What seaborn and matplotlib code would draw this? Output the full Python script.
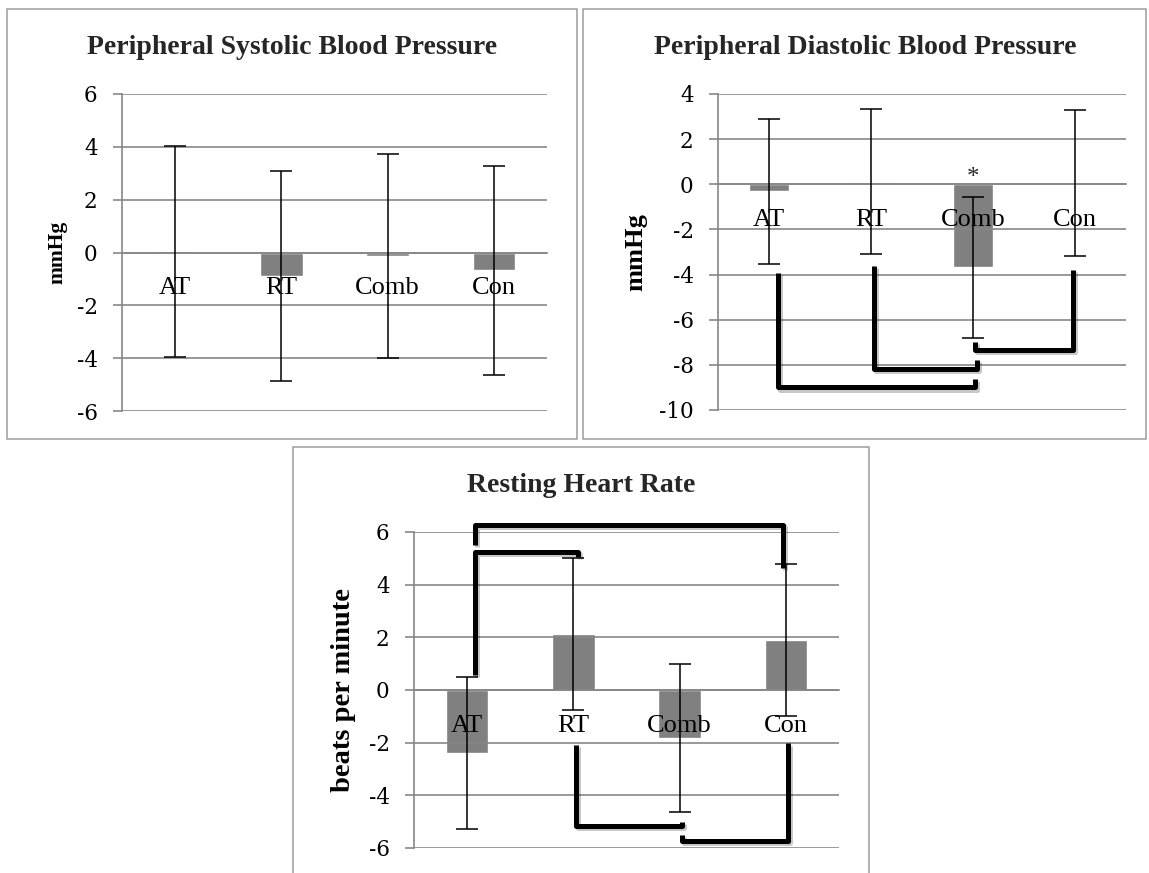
import numpy as np
import pandas as pd
import matplotlib
matplotlib.use("Agg")
import matplotlib.pyplot as plt
import matplotlib.patheffects as pe
from matplotlib.patches import Rectangle
import seaborn as sns

# ---- data: change scores (mean, SD) per training group ----
groups = ["AT", "RT", "Comb", "Con"]

sbp_mean = [0.05, -0.90, -0.15, -0.68]
sbp_sd = [4.00, 3.97, 3.86, 3.97]

dbp_mean = [-0.30, 0.12, -3.68, 0.05]
dbp_sd = [3.21, 3.21, 3.12, 3.22]

hr_mean = [-2.40, 2.12, -1.83, 1.90]
hr_sd = [2.88, 2.88, 2.81, 2.88]

sbp_ticks = [-6, -4, -2, 0, 2, 4, 6]
dbp_ticks = [-10, -8, -6, -4, -2, 0, 2, 4]
hr_ticks = [-6, -4, -2, 0, 2, 4, 6]

# significance brackets: (x_start, x_end, y_start, y_level, y_end) in data units
dbp_brackets = [
    (0.09, 2.02, -3.94, -9.00, -8.64),
    (1.03, 2.04, -3.62, -8.17, -7.78),
    (2.02, 2.98, -6.98, -7.35, -3.80),
]
hr_brackets = [
    (0.07, 1.04, 0.57, 5.25, 5.06),
    (0.07, 2.97, 5.50, 6.27, 4.62),
    (1.02, 2.02, -2.09, -5.17, -5.00),
    (2.02, 3.02, -5.50, -5.72, -2.03),
]
dbp_star_group = 2

# ---- style ----
sns.set_theme(style="white")
plt.rcParams["font.family"] = ["Liberation Serif", "DejaVu Serif"]

BAR = "#808080"
GRID = "#878787"
FRAME = "#9c9c9c"
W, H = 1149, 873

fig = plt.figure(figsize=(W / 100, H / 100), dpi=100)


def fx(px):
    return px / W


def fy(py):
    return 1 - py / H


def panel(rect, means, sds, ticks, ylabel, ylabel_size, ylabel_x):
    ax = fig.add_axes(rect)
    df = pd.DataFrame({"group": groups, "change": means})
    # bars sit beneath the axis layer so the category names stay on top
    sns.barplot(data=df, x="group", y="change", order=groups, color=BAR,
                saturation=1, width=0.4, errorbar=None, ax=ax, zorder=0.4)
    ax.errorbar(np.arange(len(groups)), means, yerr=sds, fmt="none",
                ecolor="black", elinewidth=1.1, capsize=8, capthick=1.1,
                zorder=3)
    ax.set_xlim(-0.5, len(groups) - 0.5)
    ax.set_ylim(ticks[0], ticks[-1])
    ax.set_yticks(ticks, labels=[str(t) for t in ticks])
    ax.set_xticks(range(len(groups)), labels=groups)
    ax.set_xticks(np.arange(len(groups)) + 0.5, minor=True)
    ax.tick_params(axis="x", which="major", length=0, pad=18, labelsize=19,
                   labelcolor="black")
    ax.tick_params(axis="x", which="minor", length=4.5, width=1.2,
                   color=GRID, direction="out")
    ax.tick_params(axis="y", which="major", length=6.5, width=1.2,
                   color=GRID, direction="out", pad=11, left=True,
                   labelsize=15.5, labelcolor="black",
                   labelfontfamily="DejaVu Serif")
    ax.yaxis.grid(True, color=GRID, linewidth=1.2)
    ax.xaxis.grid(False)
    ax.set_axisbelow(True)
    for s in ("top", "right"):
        ax.spines[s].set_visible(False)
    ax.spines["bottom"].set_position(("data", 0))
    for s in ("bottom", "left"):
        ax.spines[s].set_color(GRID)
        ax.spines[s].set_linewidth(1.2)
    ax.set_xlabel("")
    ax.set_ylabel(ylabel, fontsize=ylabel_size, fontweight="bold",
                  color="black")
    ax.yaxis.label.set_va("center")
    ax.yaxis.set_label_coords(ylabel_x, 0.5)
    ax.set_facecolor("white")
    return ax


def draw_brackets(ax, brackets):
    for x0, x1, y0, yl, y1 in brackets:
        ax.plot([x0, x0, x1, x1], [y0, yl, yl, y1], color="black",
                linewidth=3.6, solid_joinstyle="round",
                solid_capstyle="butt", clip_on=False, zorder=5,
                path_effects=[pe.SimpleLineShadow(offset=(1.5, -1.5),
                                                  shadow_color="black",
                                                  alpha=0.22),
                              pe.Normal()])


# panel frames
for x0, y0, x1, y1 in [(7, 9, 577, 439), (583, 9, 1146, 439),
                       (293, 447, 869, 890)]:
    fig.patches.append(Rectangle((fx(x0), fy(y1)), fx(x1 - x0),
                                 (y1 - y0) / H, transform=fig.transFigure,
                                 fill=False, edgecolor=FRAME, linewidth=1.1,
                                 zorder=0))

ax1 = panel([fx(122), fy(411), fx(425), 317 / H], sbp_mean, sbp_sd,
            sbp_ticks, "mmHg", 15.5, -0.153)
ax2 = panel([fx(718), fy(410), fx(408), 316 / H], dbp_mean, dbp_sd,
            dbp_ticks, "mmHg", 19, -0.201)
ax3 = panel([fx(414), fy(848), fx(425), 316 / H], hr_mean, hr_sd,
            hr_ticks, "beats per minute", 20.5, -0.165)

draw_brackets(ax2, dbp_brackets)
draw_brackets(ax3, hr_brackets)
ax2.text(dbp_star_group, 0, "*", ha="center", va="baseline", fontsize=18,
         zorder=4)

# chart titles
fig.text(fx(292), fy(54), "Peripheral Systolic Blood Pressure",
         ha="center", va="baseline", fontsize=20, fontweight="bold")
fig.text(fx(865), fy(54), "Peripheral Diastolic Blood Pressure",
         ha="center", va="baseline", fontsize=20, fontweight="bold")
fig.text(fx(581), fy(492), "Resting Heart Rate",
         ha="center", va="baseline", fontsize=20, fontweight="bold")

fig.savefig("out.png", dpi=100, facecolor="white")
